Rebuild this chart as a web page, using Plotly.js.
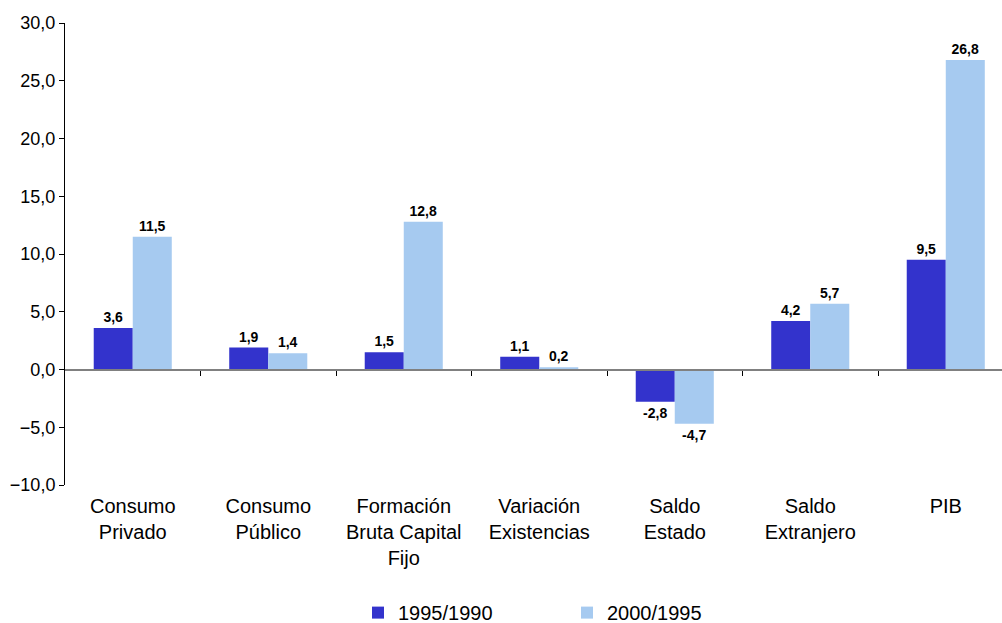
<!DOCTYPE html>
<html>
<head>
<meta charset="utf-8">
<script src="https://cdn.plot.ly/plotly-3.0.1.min.js"></script>
<style>html,body{margin:0;padding:0;background:#fff;}#chart{width:1002px;height:623px;}</style>
</head>
<body>
<div id="chart"></div>
<script>
var categories = ["Consumo<br>Privado", "Consumo<br>Público", "Formación<br>Bruta Capital<br>Fijo", "Variación<br>Existencias", "Saldo<br>Estado", "Saldo<br>Extranjero", "PIB"];
var series1Name = "1995/1990";
var series2Name = "2000/1995";
var series1 = [3.6, 1.9, 1.5, 1.1, -2.8, 4.2, 9.5];
var series2 = [11.5, 1.4, 12.8, 0.2, -4.7, 5.7, 26.8];
var yTicks = [-10, -5, 0, 5, 10, 15, 20, 25, 30];
var boundaryTicks = [0.5, 1.5, 2.5, 3.5, 4.5, 5.5];

var labelFont = {family: "Arial, Liberation Sans, sans-serif", size: 14, color: "#000"};

var traces = [
  {type: "bar", name: series1Name, x: categories, y: series1,
   marker: {color: "#3333CC"}, text: series1, texttemplate: "<b>%{y:.1f}</b>",
   textposition: "outside", textfont: labelFont, cliponaxis: false, hoverinfo: "none"},
  {type: "bar", name: series2Name, x: categories, y: series2,
   marker: {color: "#A6CAF0"}, text: series2, texttemplate: "<b>%{y:.1f}</b>",
   textposition: "outside", textfont: labelFont, cliponaxis: false, hoverinfo: "none"},
  {type: "scatter", x: [], y: [], xaxis: "x2", yaxis: "y", showlegend: false, hoverinfo: "none"}
];

var layout = {
  width: 1002, height: 623,
  margin: {l: 65, r: 0, t: 23, b: 138, autoexpand: false},
  paper_bgcolor: "#fff", plot_bgcolor: "#fff",
  separators: ",.",
  barmode: "group", bargap: 0.424, bargroupgap: 0,
  font: {family: "Arial, Liberation Sans, sans-serif", color: "#000"},
  showlegend: true,
  legend: {orientation: "h", x: 0.3127, xanchor: "left", y: -0.234, yanchor: "top",
           font: {size: 20, color: "#000"}, entrywidth: 164, traceorder: "normal"},
  xaxis: {type: "category", range: [-0.5, 6.415], showline: false, ticks: "",
          showgrid: false, zeroline: false, automargin: false, ticklabelstandoff: 7,
          tickfont: {size: 20, color: "#000"}},
  xaxis2: {type: "linear", overlaying: "x", anchor: "free", position: 0.25, side: "bottom",
           range: [-0.5, 6.415], showline: true, linecolor: "#808080", linewidth: 2,
           ticks: "outside", ticklen: 5, tickwidth: 1, tickcolor: "#000",
           tickvals: boundaryTicks, showticklabels: false, showgrid: false, zeroline: false},
  yaxis: {range: [-10, 30], tickvals: yTicks, tickformat: ".1f", showgrid: false,
          zeroline: false, showline: true, linecolor: "#000", linewidth: 1, automargin: false,
          ticks: "outside", ticklen: 5, tickcolor: "#000",
          tickfont: {size: 18, color: "#000"}}
};

Plotly.newPlot("chart", traces, layout, {displayModeBar: false, staticPlot: true});
</script>
</body>
</html>
